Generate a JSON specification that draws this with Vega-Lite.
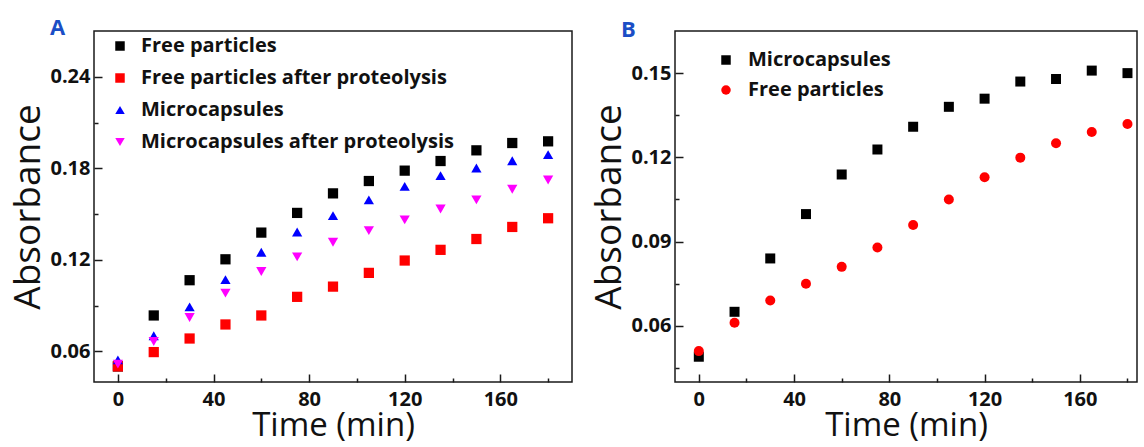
{
  "$schema": "https://vega.github.io/schema/vega-lite/v6.json",
  "background": "white",
  "padding": {"left": 9, "top": 16, "right": 0, "bottom": 0},
  "spacing": 17,
  "config": {
    "font": "Open Sans",
    "view": {"stroke": "#1a1a1a", "strokeWidth": 1.5},
    "axis": {
      "domain": false,
      "grid": false,
      "tickColor": "#1a1a1a",
      "tickWidth": 1.5,
      "labelFont": "Open Sans",
      "labelFontSize": 20,
      "labelFontWeight": "bold",
      "labelColor": "#111",
      "titleFont": "Open Sans",
      "titleFontSize": 37,
      "titleFontWeight": "normal",
      "titleColor": "#111"
    },
    "legend": {
      "orient": "none",
      "title": null,
      "padding": 0,
      "labelFont": "Open Sans",
      "labelFontSize": 20,
      "labelFontWeight": "bold",
      "labelColor": "#111",
      "labelLimit": 0,
      "symbolSize": 90,
      "symbolStrokeWidth": 0,
      "rowPadding": 12
    }
  },
  "resolve": {"scale": {"x": "independent", "y": "independent", "color": "independent", "shape": "independent"}, "legend": {"color": "independent", "shape": "independent"}},
  "hconcat": [
    {
      "width": 478,
      "height": 351,
      "title": {"text": "A", "anchor": "start", "frame": "group", "dx": -44, "offset": -9, "fontSize": 22, "fontWeight": "bold", "color": "#1b4ec6", "font": "Open Sans"},
      "data": {"values": [
        {"time": 0, "absorbance": 0.0502, "series": "Free particles"},
        {"time": 15, "absorbance": 0.0836, "series": "Free particles"},
        {"time": 30, "absorbance": 0.1067, "series": "Free particles"},
        {"time": 45, "absorbance": 0.1204, "series": "Free particles"},
        {"time": 60, "absorbance": 0.1379, "series": "Free particles"},
        {"time": 75, "absorbance": 0.1508, "series": "Free particles"},
        {"time": 90, "absorbance": 0.1636, "series": "Free particles"},
        {"time": 105, "absorbance": 0.1717, "series": "Free particles"},
        {"time": 120, "absorbance": 0.1785, "series": "Free particles"},
        {"time": 135, "absorbance": 0.1848, "series": "Free particles"},
        {"time": 150, "absorbance": 0.1918, "series": "Free particles"},
        {"time": 165, "absorbance": 0.1966, "series": "Free particles"},
        {"time": 180, "absorbance": 0.1977, "series": "Free particles"},
        {"time": 0, "absorbance": 0.0502, "series": "Free particles after proteolysis"},
        {"time": 15, "absorbance": 0.0596, "series": "Free particles after proteolysis"},
        {"time": 30, "absorbance": 0.0685, "series": "Free particles after proteolysis"},
        {"time": 45, "absorbance": 0.0777, "series": "Free particles after proteolysis"},
        {"time": 60, "absorbance": 0.0836, "series": "Free particles after proteolysis"},
        {"time": 75, "absorbance": 0.0958, "series": "Free particles after proteolysis"},
        {"time": 90, "absorbance": 0.1025, "series": "Free particles after proteolysis"},
        {"time": 105, "absorbance": 0.1115, "series": "Free particles after proteolysis"},
        {"time": 120, "absorbance": 0.1196, "series": "Free particles after proteolysis"},
        {"time": 135, "absorbance": 0.1266, "series": "Free particles after proteolysis"},
        {"time": 150, "absorbance": 0.1337, "series": "Free particles after proteolysis"},
        {"time": 165, "absorbance": 0.1416, "series": "Free particles after proteolysis"},
        {"time": 180, "absorbance": 0.1473, "series": "Free particles after proteolysis"},
        {"time": 0, "absorbance": 0.0545, "series": "Microcapsules"},
        {"time": 15, "absorbance": 0.0703, "series": "Microcapsules"},
        {"time": 30, "absorbance": 0.0892, "series": "Microcapsules"},
        {"time": 45, "absorbance": 0.1071, "series": "Microcapsules"},
        {"time": 60, "absorbance": 0.125, "series": "Microcapsules"},
        {"time": 75, "absorbance": 0.1383, "series": "Microcapsules"},
        {"time": 90, "absorbance": 0.149, "series": "Microcapsules"},
        {"time": 105, "absorbance": 0.1593, "series": "Microcapsules"},
        {"time": 120, "absorbance": 0.1682, "series": "Microcapsules"},
        {"time": 135, "absorbance": 0.1752, "series": "Microcapsules"},
        {"time": 150, "absorbance": 0.1802, "series": "Microcapsules"},
        {"time": 165, "absorbance": 0.185, "series": "Microcapsules"},
        {"time": 180, "absorbance": 0.189, "series": "Microcapsules"},
        {"time": 0, "absorbance": 0.0517, "series": "Microcapsules after proteolysis"},
        {"time": 15, "absorbance": 0.0665, "series": "Microcapsules after proteolysis"},
        {"time": 30, "absorbance": 0.0823, "series": "Microcapsules after proteolysis"},
        {"time": 45, "absorbance": 0.0982, "series": "Microcapsules after proteolysis"},
        {"time": 60, "absorbance": 0.1124, "series": "Microcapsules after proteolysis"},
        {"time": 75, "absorbance": 0.122, "series": "Microcapsules after proteolysis"},
        {"time": 90, "absorbance": 0.1316, "series": "Microcapsules after proteolysis"},
        {"time": 105, "absorbance": 0.1392, "series": "Microcapsules after proteolysis"},
        {"time": 120, "absorbance": 0.1462, "series": "Microcapsules after proteolysis"},
        {"time": 135, "absorbance": 0.1534, "series": "Microcapsules after proteolysis"},
        {"time": 150, "absorbance": 0.1593, "series": "Microcapsules after proteolysis"},
        {"time": 165, "absorbance": 0.1663, "series": "Microcapsules after proteolysis"},
        {"time": 180, "absorbance": 0.1724, "series": "Microcapsules after proteolysis"}
      ]},
      "mark": {"type": "point", "filled": true, "opacity": 1, "size": 105},
      "encoding": {
        "x": {
          "field": "time", "type": "quantitative",
          "scale": {"domain": [-10, 190], "nice": false, "zero": false},
          "axis": {
            "title": "Time (min)",
            "titleFontSize": 33,
            "values": [0, 20, 40, 60, 80, 100, 120, 140, 160, 180],
            "labelExpr": "datum.value % 40 === 0 ? datum.label : ''",
            "tickSize": {"condition": {"test": "datum.value % 40 === 0", "value": -8}, "value": -4},
            "labelPadding": 15,
            "titlePadding": 0
          }
        },
        "y": {
          "field": "absorbance", "type": "quantitative",
          "scale": {"domain": [0.04, 0.27], "nice": false, "zero": false},
          "axis": {
            "title": "Absorbance",
            "values": [0.06, 0.09, 0.12, 0.15, 0.18, 0.21, 0.24],
            "format": ".2f",
            "labelExpr": "round(datum.value * 100) % 6 === 0 ? datum.label : ''",
            "tickSize": {"condition": {"test": "round(datum.value * 100) % 6 === 0", "value": -8}, "value": -4},
            "labelPadding": 12,
            "titlePadding": 2
          }
        },
        "color": {
          "field": "series", "type": "nominal",
          "scale": {"domain": ["Free particles", "Free particles after proteolysis", "Microcapsules", "Microcapsules after proteolysis"], "range": ["#000000", "#ff0000", "#0000ff", "#ff00ff"]},
          "legend": {"legendX": 16, "legendY": 5, "labelOffset": 11}
        },
        "shape": {
          "field": "series", "type": "nominal",
          "scale": {"domain": ["Free particles", "Free particles after proteolysis", "Microcapsules", "Microcapsules after proteolysis"], "range": ["square", "square", "triangle-up", "triangle-down"]},
          "legend": {"legendX": 16, "legendY": 5, "labelOffset": 11}
        }
      }
    },
    {
      "width": 462,
      "height": 351,
      "title": {"text": "B", "anchor": "start", "frame": "group", "dx": -54, "offset": -11, "fontSize": 22, "fontWeight": "bold", "color": "#1b4ec6", "font": "Open Sans"},
      "data": {"values": [
        {"time": 0, "absorbance": 0.049, "series": "Microcapsules"},
        {"time": 15, "absorbance": 0.065, "series": "Microcapsules"},
        {"time": 30, "absorbance": 0.084, "series": "Microcapsules"},
        {"time": 45, "absorbance": 0.0998, "series": "Microcapsules"},
        {"time": 60, "absorbance": 0.1139, "series": "Microcapsules"},
        {"time": 75, "absorbance": 0.1228, "series": "Microcapsules"},
        {"time": 90, "absorbance": 0.1309, "series": "Microcapsules"},
        {"time": 105, "absorbance": 0.138, "series": "Microcapsules"},
        {"time": 120, "absorbance": 0.1409, "series": "Microcapsules"},
        {"time": 135, "absorbance": 0.147, "series": "Microcapsules"},
        {"time": 150, "absorbance": 0.1479, "series": "Microcapsules"},
        {"time": 165, "absorbance": 0.1509, "series": "Microcapsules"},
        {"time": 180, "absorbance": 0.15, "series": "Microcapsules"},
        {"time": 0, "absorbance": 0.051, "series": "Free particles"},
        {"time": 15, "absorbance": 0.0611, "series": "Free particles"},
        {"time": 30, "absorbance": 0.069, "series": "Free particles"},
        {"time": 45, "absorbance": 0.075, "series": "Free particles"},
        {"time": 60, "absorbance": 0.081, "series": "Free particles"},
        {"time": 75, "absorbance": 0.0879, "series": "Free particles"},
        {"time": 90, "absorbance": 0.0959, "series": "Free particles"},
        {"time": 105, "absorbance": 0.105, "series": "Free particles"},
        {"time": 120, "absorbance": 0.1129, "series": "Free particles"},
        {"time": 135, "absorbance": 0.1199, "series": "Free particles"},
        {"time": 150, "absorbance": 0.125, "series": "Free particles"},
        {"time": 165, "absorbance": 0.129, "series": "Free particles"},
        {"time": 180, "absorbance": 0.1319, "series": "Free particles"}
      ]},
      "mark": {"type": "point", "filled": true, "opacity": 1, "size": 100},
      "encoding": {
        "x": {
          "field": "time", "type": "quantitative",
          "scale": {"domain": [-10, 184], "nice": false, "zero": false},
          "axis": {
            "title": "Time (min)",
            "titleFontSize": 33,
            "values": [0, 20, 40, 60, 80, 100, 120, 140, 160, 180],
            "labelExpr": "datum.value % 40 === 0 ? datum.label : ''",
            "tickSize": {"condition": {"test": "datum.value % 40 === 0", "value": -8}, "value": -4},
            "labelPadding": 15,
            "titlePadding": 0
          }
        },
        "y": {
          "field": "absorbance", "type": "quantitative",
          "scale": {"domain": [0.04, 0.165], "nice": false, "zero": false},
          "axis": {
            "title": "Absorbance",
            "values": [0.045, 0.06, 0.075, 0.09, 0.105, 0.12, 0.135, 0.15],
            "format": ".2f",
            "labelExpr": "round(datum.value * 1000) % 30 === 0 ? datum.label : ''",
            "tickSize": {"condition": {"test": "round(datum.value * 1000) % 30 === 0", "value": -8}, "value": -4},
            "labelPadding": 12,
            "titlePadding": 2
          }
        },
        "color": {
          "field": "series", "type": "nominal",
          "scale": {"domain": ["Microcapsules", "Free particles"], "range": ["#000000", "#ff0000"]},
          "legend": {"legendX": 41, "legendY": 19, "rowPadding": 10, "labelOffset": 12}
        },
        "shape": {
          "field": "series", "type": "nominal",
          "scale": {"domain": ["Microcapsules", "Free particles"], "range": ["square", "circle"]},
          "legend": {"legendX": 41, "legendY": 19, "rowPadding": 10, "labelOffset": 12}
        }
      }
    }
  ]
}
